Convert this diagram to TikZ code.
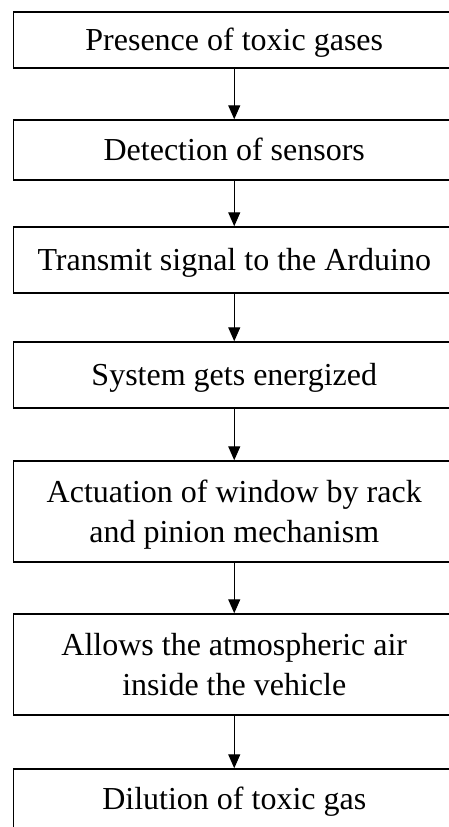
\documentclass[tikz,border=0pt]{standalone}
\usepackage{fontspec}
\setmainfont{Liberation Serif}
\usetikzlibrary{arrows.meta}
\begin{document}
\begin{tikzpicture}[x=1pt,y=-1pt,
  stepbox/.style={draw=black,line width=1.5pt,minimum width=441.5pt,inner sep=0pt,
    align=center,text height=21pt,text depth=0pt,font=\fontsize{32}{40}\selectfont},
  twoline/.style={text height=61pt,text depth=0pt},
  flow/.style={-{Triangle[width=12pt,length=14pt]},line width=1.3pt}]
\useasboundingbox (0,0) rectangle (449,827);
\clip (0,0) rectangle (449,827);
\node[stepbox,minimum height=56pt] (b1) at (234.25,40) {Presence of toxic gases};
\node[stepbox,minimum height=60pt] (b2) at (234.25,150) {Detection of sensors};
\node[stepbox,minimum height=66pt] (b3) at (234.25,260) {Transmit signal to the Arduino};
\node[stepbox,minimum height=66pt] (b4) at (234.25,375) {System gets energized};
\node[stepbox,twoline,minimum height=101pt] (b5) at (234.25,511.5) {Actuation of window by rack\\and pinion mechanism};
\node[stepbox,twoline,minimum height=101pt] (b6) at (234.25,664.5) {Allows the atmospheric air\\inside the vehicle};
\node[stepbox,minimum height=60pt] (b7) at (234.25,799) {Dilution of toxic gas};
\draw[flow] (b1) -- (b2);
\draw[flow] (b2) -- (b3);
\draw[flow] (b3) -- (b4);
\draw[flow] (b4) -- (b5);
\draw[flow] (b5) -- (b6);
\draw[flow] (b6) -- (b7);
\end{tikzpicture}
\end{document}
